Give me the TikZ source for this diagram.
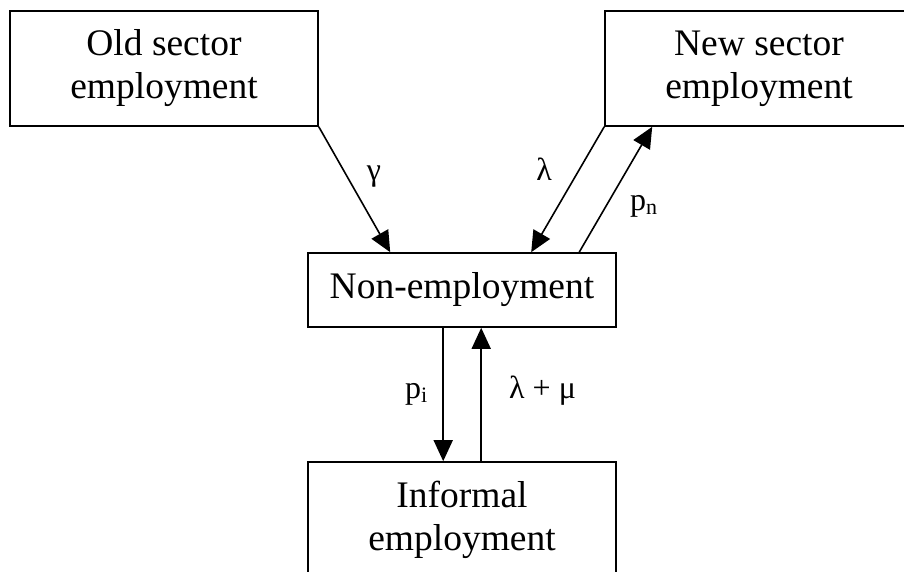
\documentclass[tikz,border=0pt]{standalone}
\usepackage{fontspec}
\setmainfont{Liberation Serif}
\usetikzlibrary{arrows.meta,calc}
\newcommand{\lowsub}[1]{\raisebox{-4pt}{\fontsize{22}{22}\selectfont #1}}
\begin{document}
\begin{tikzpicture}[x=1pt,y=-1pt,
  box/.style={draw,line width=1.6pt,minimum width=308pt,minimum height=115pt,inner sep=0pt,align=center,font=\fontsize{37.5}{43}\selectfont},
  smallbox/.style={box,minimum height=74pt},
  flow/.style={line width=1.6pt,-{Triangle[length=21pt,width=19pt]}},
  lab/.style={font=\fontsize{32}{36}\selectfont,anchor=base,inner sep=0pt}]
\useasboundingbox (0,0) rectangle (904,572);
\clip (0,0) rectangle (904,572);
\node[box] (old) at (164,68.5) {Old sector\\employment};
\node[box] (new) at (759,68.5) {New sector\\employment};
\node[smallbox] (non) at (462,290) {Non-employment};
\node[box] (inf) at (462,519.5) {Informal\\employment};
% connectors
\coordinate (gin) at ($(non.north west)+(83,0)$);
\coordinate (lin) at ($(non.north west)+(224,0)$);
\coordinate (pnout) at ($(non.north west)+(272,0)$);
\coordinate (pnin) at ($(new.south west)+(48,0)$);
\coordinate (piout) at ($(non.south west)+(136,0)$);
\coordinate (piin) at ($(inf.north west)+(136,0)$);
\coordinate (lmout) at ($(inf.north west)+(174,0)$);
\coordinate (lmin) at ($(non.south west)+(174,0)$);
\draw[flow] (old.south east) -- (gin);
\draw[flow] (new.south west) -- (lin);
\draw[flow] (pnout) -- (pnin);
\draw[flow] (piout) -- (piin);
\draw[flow] (lmout) -- (lmin);
% labels
\node[lab] (lg) at (374,180) {γ};
\node[lab] (ll) at (544,181) {λ};
\node[lab,anchor=base west] (lpn) at (630,211) {p\lowsub{n}};
\node[lab,anchor=base west] (lpi) at (405,398.5) {p\lowsub{i}};
\node[lab,anchor=base west] (llm) at (509,398) {λ + μ};
\end{tikzpicture}
\end{document}
